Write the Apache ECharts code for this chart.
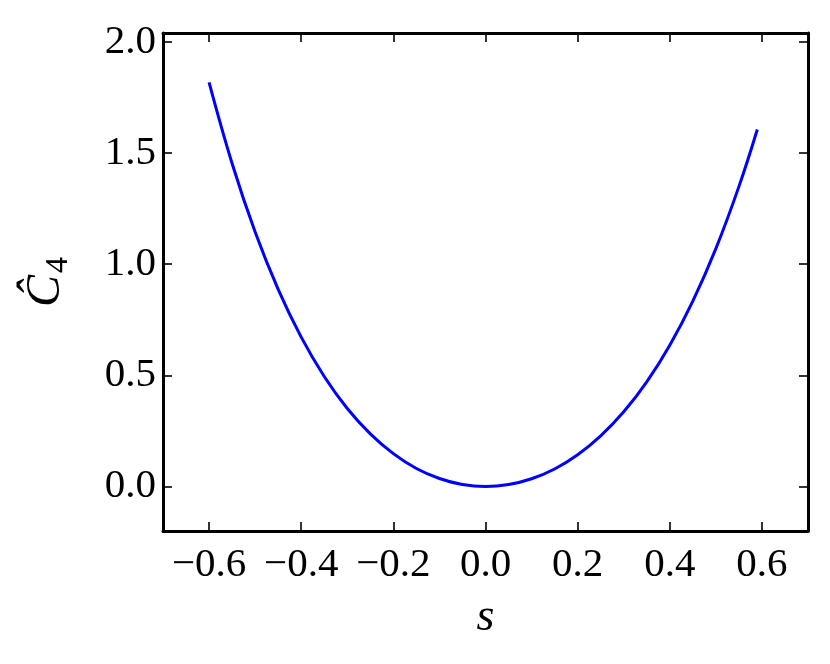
<!DOCTYPE html>
<html>
<head>
<meta charset="utf-8">
<title>C4 hat vs s</title>
<script src="https://cdn.jsdelivr.net/npm/echarts@6/dist/echarts.min.js"></script>
<style>
  html, body { margin: 0; padding: 0; background: #fff; }
  #chart { width: 830px; height: 664px; }
</style>
</head>
<body>
<div id="chart"></div>
<script>
// values
const sValues = [-0.60, -0.55, -0.50, -0.45, -0.40, -0.35, -0.30, -0.25, -0.20, -0.15, -0.10, -0.05, 0.00,
                 0.05, 0.10, 0.15, 0.20, 0.25, 0.30, 0.35, 0.40, 0.45, 0.50, 0.55, 0.59];
const c4Values = [1.818, 1.453, 1.145, 0.887, 0.672, 0.495, 0.351, 0.237, 0.148, 0.081, 0.036, 0.009, 0.000,
                  0.009, 0.035, 0.079, 0.143, 0.228, 0.336, 0.471, 0.636, 0.834, 1.070, 1.349, 1.606];
const xTicks = [-0.6, -0.4, -0.2, 0.0, 0.2, 0.4, 0.6];
const yTicks = [0.0, 0.5, 1.0, 1.5, 2.0];

const serif = '"Liberation Serif", "DejaVu Serif", serif';

const chart = echarts.init(document.getElementById('chart'), null, { renderer: 'canvas' });

function fmt(v) {
  const s = Math.abs(v).toFixed(1);
  return v < -1e-9 ? '\u2212' + s : s;
}

const tickStyle = { show: true, inside: true, length: 9, lineStyle: { color: '#000', width: 1.6 } };
const frameLine = { show: true, onZero: false, lineStyle: { color: '#000', width: 3 } };

const option = {
  backgroundColor: '#fff',
  animation: false,
  grid: { left: 163, right: 22, top: 33, bottom: 133, containLabel: false },
  xAxis: [
    {
      type: 'value', min: -0.7, max: 0.7, position: 'bottom',
      axisLine: frameLine,
      axisTick: Object.assign({ customValues: xTicks }, tickStyle),
      axisLabel: { customValues: xTicks, formatter: fmt, color: '#000', fontFamily: serif, fontSize: 41, margin: 14 },
      splitLine: { show: false },
      name: 's', nameLocation: 'middle', nameGap: 64,
      nameTextStyle: { fontFamily: serif, fontStyle: 'italic', fontSize: 46, color: '#000' }
    },
    {
      type: 'value', min: -0.7, max: 0.7, position: 'top',
      axisLine: frameLine,
      axisTick: Object.assign({ customValues: xTicks }, tickStyle),
      axisLabel: { show: false },
      splitLine: { show: false }
    }
  ],
  yAxis: [
    {
      type: 'value', min: -0.2, max: 2.04, position: 'left',
      axisLine: frameLine,
      axisTick: Object.assign({ customValues: yTicks }, tickStyle),
      axisLabel: { customValues: yTicks, formatter: fmt, color: '#000', fontFamily: serif, fontSize: 41, margin: 7 },
      splitLine: { show: false },
      name: '{c|\u0108}{s|4}', nameLocation: 'middle', nameGap: 88, nameRotate: 90,
      nameTextStyle: {
        color: '#000',
        rich: {
          c: { fontFamily: serif, fontStyle: 'italic', fontSize: 48, lineHeight: 58, color: '#000' },
          s: { fontFamily: serif, fontSize: 32, lineHeight: 58, padding: [18, 0, 0, 2], verticalAlign: 'bottom', color: '#000' }
        }
      }
    },
    {
      type: 'value', min: -0.2, max: 2.04, position: 'right',
      axisLine: frameLine,
      axisTick: Object.assign({ customValues: yTicks }, tickStyle),
      axisLabel: { show: false },
      splitLine: { show: false }
    }
  ],
  series: [
    {
      type: 'line',
      xAxisIndex: 0,
      yAxisIndex: 0,
      data: sValues.map((s, i) => [s, c4Values[i]]),
      smooth: 0.4,
      showSymbol: false,
      lineStyle: { color: '#0000ff', width: 3 }
    }
  ]
};

chart.setOption(option);
</script>
</body>
</html>
